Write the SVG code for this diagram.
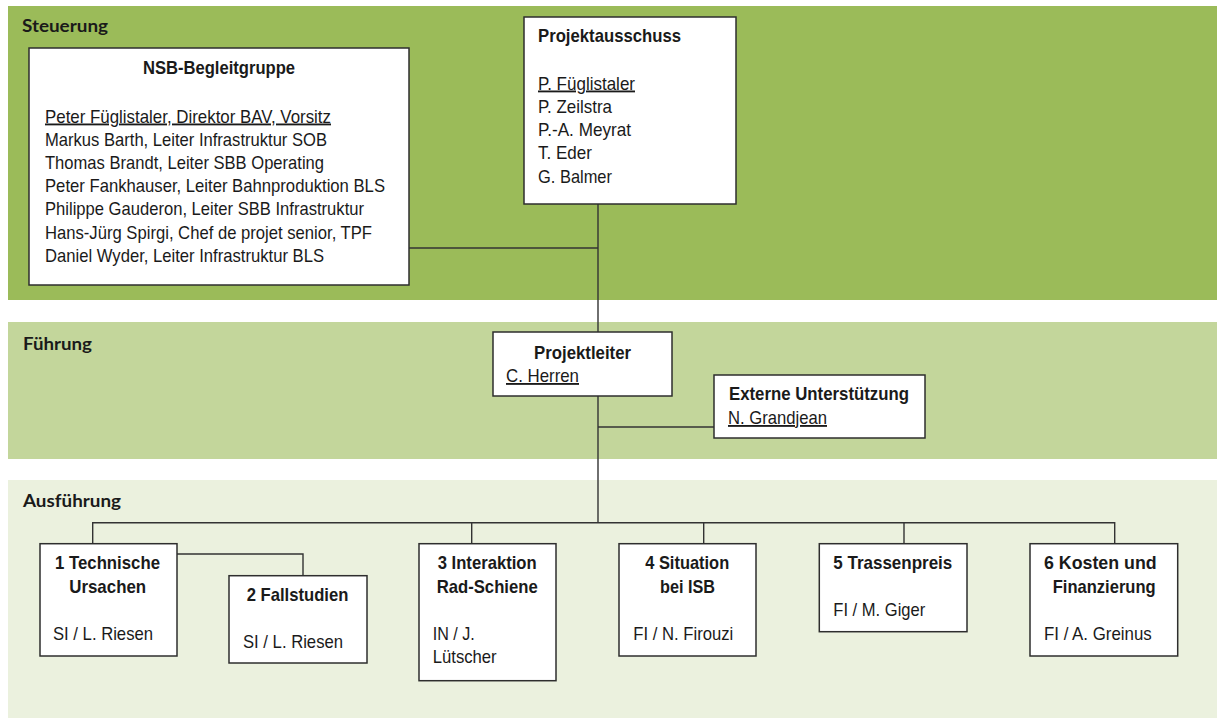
<svg xmlns="http://www.w3.org/2000/svg" width="1217" height="718" viewBox="0 0 1217 718">
<style>
.box{fill:#fff;stroke:#2e2e2e;stroke-width:1.5}
.t{font-family:"Liberation Sans",Arial,sans-serif;font-size:18.5px;fill:#1a1a1a}
.b{font-family:"Liberation Sans",Arial,sans-serif;font-size:19px;font-weight:bold;fill:#1a1a1a}
.sec{font-family:Lato,"Open Sans",sans-serif;font-size:16.5px;font-weight:bold;fill:#1a1a1a}
.u{text-decoration:underline}
.c{fill:none;stroke:#333;stroke-width:1.4}
</style>
<g id="bands">
<rect x="8" y="6" width="1209" height="294" fill="#9bbb59"/>
<rect x="8" y="322" width="1209" height="137" fill="#c3d69b"/>
<rect x="8" y="480" width="1209" height="238" fill="#ebf1de"/>
<text class="sec" x="22" y="32" textLength="86" lengthAdjust="spacingAndGlyphs">Steuerung</text>
<text class="sec" x="23" y="350" textLength="69" lengthAdjust="spacingAndGlyphs">Führung</text>
<text class="sec" x="23" y="507" textLength="98" lengthAdjust="spacingAndGlyphs">Ausführung</text>
</g>
<g id="connectors">
<path class="c" d="M409,248 H598"/>
<path class="c" d="M598,204 V332"/>
<path class="c" d="M598,396 V522.7"/>
<path class="c" d="M598,427 H714"/>
<path class="c" d="M92.7,543.7 V522.7 H1114.7 V543.7"/>
<path class="c" d="M471.7,522.7 V543.7"/>
<path class="c" d="M703.7,522.7 V543.7"/>
<path class="c" d="M904,522.7 V543.7"/>
<path class="c" d="M177,554 H303 V575.7"/>
</g>
<g id="nsb">
<rect class="box" x="29" y="48" width="380" height="237"/>
<text class="b" x="219" y="74" text-anchor="middle" textLength="152" lengthAdjust="spacingAndGlyphs">NSB-Begleitgruppe</text>
<text class="t u" x="45" y="122.5" textLength="286" lengthAdjust="spacingAndGlyphs">Peter Füglistaler, Direktor BAV, Vorsitz</text>
<text class="t" x="45" y="145.7" textLength="282" lengthAdjust="spacingAndGlyphs">Markus Barth, Leiter Infrastruktur SOB</text>
<text class="t" x="45" y="168.9" textLength="279" lengthAdjust="spacingAndGlyphs">Thomas Brandt, Leiter SBB Operating</text>
<text class="t" x="45" y="192.1" textLength="340" lengthAdjust="spacingAndGlyphs">Peter Fankhauser, Leiter Bahnproduktion BLS</text>
<text class="t" x="45" y="215.3" textLength="319" lengthAdjust="spacingAndGlyphs">Philippe Gauderon, Leiter SBB Infrastruktur</text>
<text class="t" x="45" y="238.5" textLength="327" lengthAdjust="spacingAndGlyphs">Hans-Jürg Spirgi, Chef de projet senior, TPF</text>
<text class="t" x="45" y="261.7" textLength="279" lengthAdjust="spacingAndGlyphs">Daniel Wyder, Leiter Infrastruktur BLS</text>
</g>
<g id="projektausschuss">
<rect class="box" x="524" y="17" width="212" height="187"/>
<text class="b" x="538" y="42" textLength="143" lengthAdjust="spacingAndGlyphs">Projektausschuss</text>
<text class="t u" x="538" y="89.5" textLength="97" lengthAdjust="spacingAndGlyphs">P. Füglistaler</text>
<text class="t" x="538" y="112.7" textLength="74" lengthAdjust="spacingAndGlyphs">P. Zeilstra</text>
<text class="t" x="538" y="136" textLength="93" lengthAdjust="spacingAndGlyphs">P.-A. Meyrat</text>
<text class="t" x="538" y="159.2" textLength="54" lengthAdjust="spacingAndGlyphs">T. Eder</text>
<text class="t" x="538" y="182.5" textLength="74" lengthAdjust="spacingAndGlyphs">G. Balmer</text>
</g>
<g id="projektleiter">
<rect class="box" x="493" y="332" width="179" height="64"/>
<text class="b" x="582.5" y="358.7" text-anchor="middle" textLength="97" lengthAdjust="spacingAndGlyphs">Projektleiter</text>
<text class="t u" x="506" y="382" textLength="73" lengthAdjust="spacingAndGlyphs">C. Herren</text>
</g>
<g id="extern">
<rect class="box" x="714" y="375" width="211" height="63"/>
<text class="b" x="729" y="400" textLength="180" lengthAdjust="spacingAndGlyphs">Externe Unterstützung</text>
<text class="t u" x="728" y="424" textLength="99" lengthAdjust="spacingAndGlyphs">N. Grandjean</text>
</g>
<g id="tp1">
<rect class="box" x="40" y="543.7" width="137" height="112.3"/>
<text class="b" x="107.5" y="569" text-anchor="middle" textLength="105" lengthAdjust="spacingAndGlyphs">1 Technische</text>
<text class="b" x="107.7" y="592.7" text-anchor="middle" textLength="77" lengthAdjust="spacingAndGlyphs">Ursachen</text>
<text class="t" x="53" y="640" textLength="100" lengthAdjust="spacingAndGlyphs">SI / L. Riesen</text>
</g>
<g id="tp2">
<rect class="box" x="229" y="575.7" width="138" height="87.3"/>
<text class="b" x="297.5" y="600.7" text-anchor="middle" textLength="101.7" lengthAdjust="spacingAndGlyphs">2 Fallstudien</text>
<text class="t" x="243" y="647.7" textLength="100" lengthAdjust="spacingAndGlyphs">SI / L. Riesen</text>
</g>
<g id="tp3">
<rect class="box" x="419" y="543.7" width="137" height="137"/>
<text class="b" x="487.2" y="569" text-anchor="middle" textLength="99" lengthAdjust="spacingAndGlyphs">3 Interaktion</text>
<text class="b" x="487.2" y="592.7" text-anchor="middle" textLength="101" lengthAdjust="spacingAndGlyphs">Rad-Schiene</text>
<text class="t" x="432.7" y="640" textLength="42" lengthAdjust="spacingAndGlyphs">IN / J.</text>
<text class="t" x="432.7" y="662.7" textLength="64" lengthAdjust="spacingAndGlyphs">Lütscher</text>
</g>
<g id="tp4">
<rect class="box" x="619" y="543.7" width="137" height="112.3"/>
<text class="b" x="687.2" y="569" text-anchor="middle" textLength="84" lengthAdjust="spacingAndGlyphs">4 Situation</text>
<text class="b" x="687.5" y="592.7" text-anchor="middle" textLength="55" lengthAdjust="spacingAndGlyphs">bei ISB</text>
<text class="t" x="633.3" y="640" textLength="100" lengthAdjust="spacingAndGlyphs">FI / N. Firouzi</text>
</g>
<g id="tp5">
<rect class="box" x="819.3" y="543.7" width="147.7" height="88"/>
<text class="b" x="892.8" y="569" text-anchor="middle" textLength="119" lengthAdjust="spacingAndGlyphs">5 Trassenpreis</text>
<text class="t" x="833.3" y="616" textLength="92" lengthAdjust="spacingAndGlyphs">FI / M. Giger</text>
</g>
<g id="tp6">
<rect class="box" x="1030" y="543.7" width="147.7" height="112.3"/>
<text class="b" x="1100.3" y="569" text-anchor="middle" textLength="112.7" lengthAdjust="spacingAndGlyphs">6 Kosten und</text>
<text class="b" x="1104.2" y="592.7" text-anchor="middle" textLength="103" lengthAdjust="spacingAndGlyphs">Finanzierung</text>
<text class="t" x="1044" y="640" textLength="107.7" lengthAdjust="spacingAndGlyphs">FI / A. Greinus</text>
</g>
</svg>
